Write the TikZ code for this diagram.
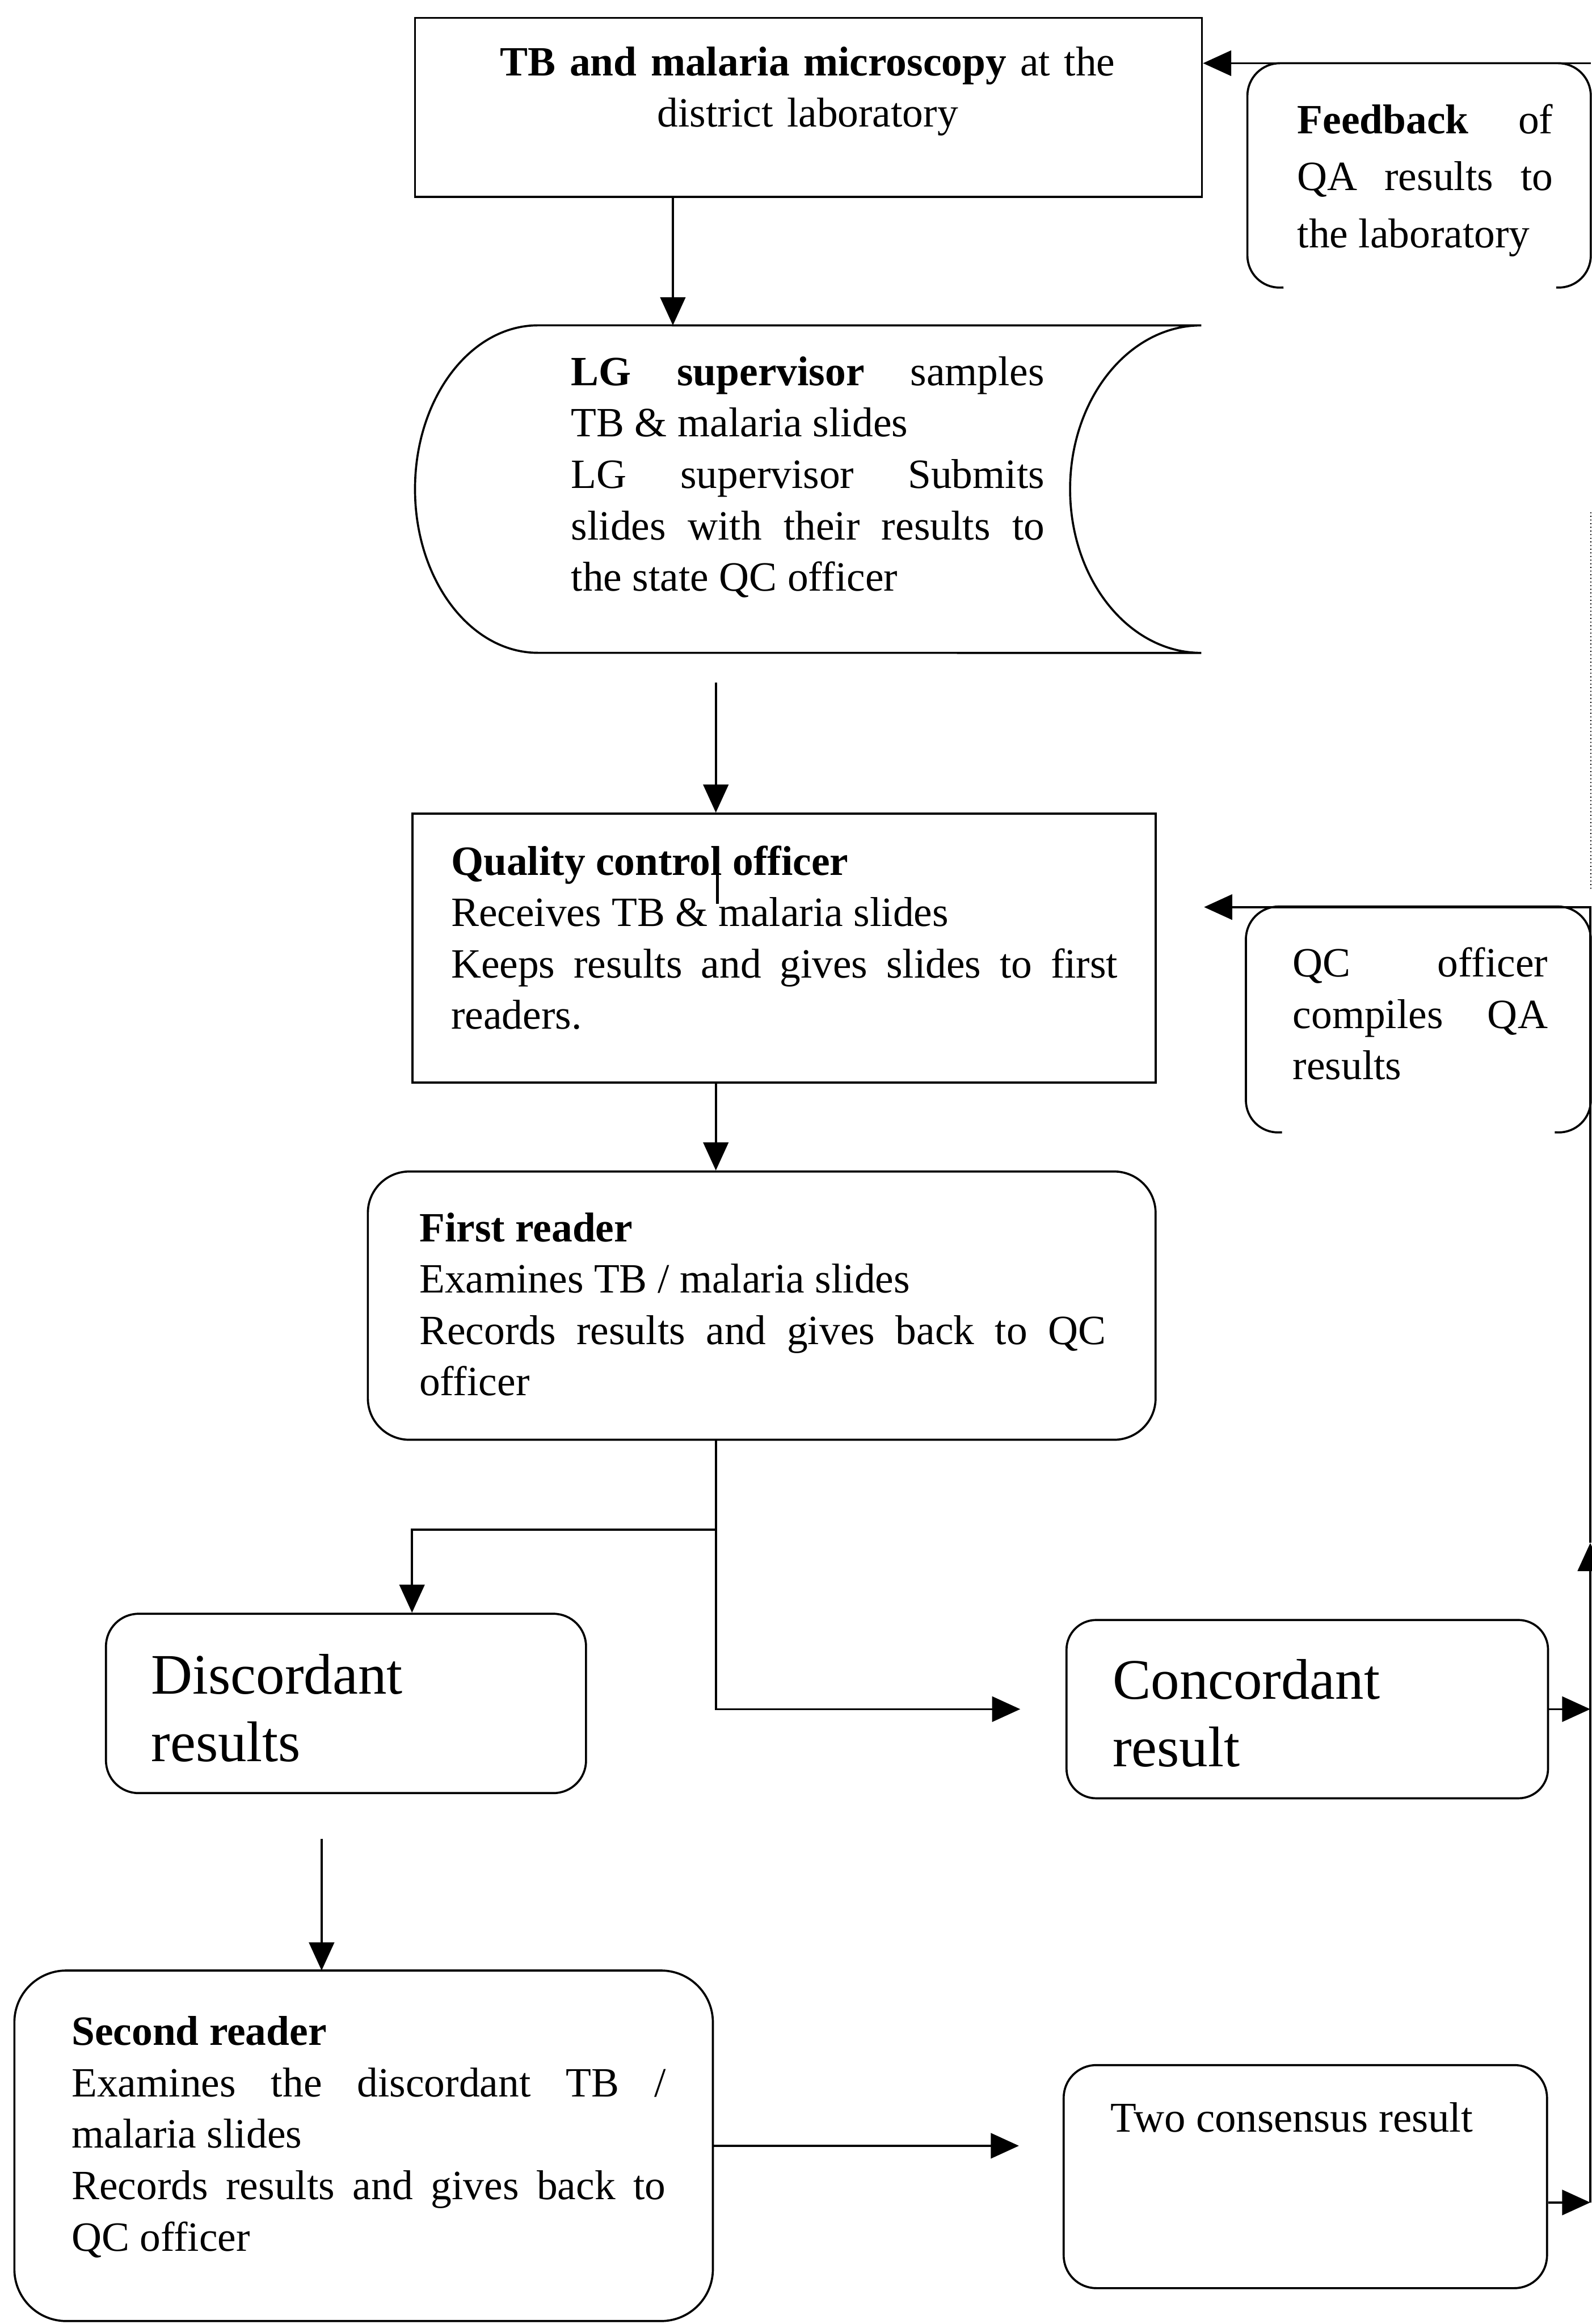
\documentclass[tikz,border=0pt]{standalone}
\usepackage{fontspec}
\setmainfont{Liberation Serif}
\usetikzlibrary{arrows.meta,fit}

\begin{document}
\begin{tikzpicture}[x=0.02cm, y=-0.02cm,
  box/.style={draw, line width=0.8pt, inner sep=0pt},
  line/.style={line width=0.8pt},
  arr/.style={line width=0.8pt, -{Triangle[length=3.8mm,width=3.4mm]}},
  txt/.style={inner sep=0pt, anchor=base west, align=justify, font=\fontsize{16}{19.75}\selectfont},
  big/.style={inner sep=0pt, anchor=base west, align=left, text width=4.2cm, font=\fontsize{22}{25.9}\selectfont}]
  \useasboundingbox (0,0) rectangle (1074,1568);

  % ── District laboratory (top) ──
  \node[box, fit={(280,12) (811,132.8)}] (lab) {};
  \node[txt, anchor=base, align=center, text width=9cm] (labtxt) at (545,51)
    {\textbf{TB and malaria microscopy} at the\\ district laboratory};

  % ── LG supervisor (stored-data shape) ──
  \node[inner sep=0pt, fit={(280,219.5) (810.5,440.5)}] (lg) {};
  \draw[line] (363,219.5) arc[start angle=90, end angle=270, x radius=1.66cm, y radius=2.21cm]
    -- (810.5,440.5) arc[start angle=270, end angle=90, x radius=1.77cm, y radius=2.21cm] -- cycle;
  \node[txt, text width=6.39cm] (lgtxt) at (385,260)
    {\textbf{LG supervisor} samples\linebreak TB \& malaria slides\\
     LG supervisor Submits\linebreak slides with their results to\linebreak the state QC officer};

  % ── Quality control officer ──
  \node[box, fit={(278.3,549) (779.7,730.4)}] (qco) {};
  \node[txt, text width=9cm] (qcotxt) at (304,590.3)
    {\textbf{Quality control officer}\\ Receives TB \& malaria slides\\
     Keeps results and gives slides to first\linebreak readers.};
  \draw[line width=1pt] (484,571) -- (484,610);

  % ── Feedback and QC compile boxes (right, open at the bottom) ──
  \node[inner sep=0pt, fit={(842,43) (1073,194)}] (feed) {};
  \draw[line, rounded corners=0.44cm] (866,194) -- (feed.south west) -- (feed.north west)
    -- (feed.north east) -- (feed.south east) -- (1050,194);
  \node[txt, text width=3.45cm, font=\fontsize{16}{21.9}\selectfont] (feedtxt) at (875,90)
    {\textbf{Feedback} of\linebreak QA results to\linebreak the laboratory};

  \node[inner sep=0pt, fit={(841,612) (1073,764)}] (comp) {};
  \draw[line, rounded corners=0.44cm] (865,764) -- (comp.south west) -- (comp.north west)
    -- (comp.north east) -- (comp.south east) -- (1049,764);
  \node[txt, text width=3.44cm] (comptxt) at (872,659)
    {QC officer\linebreak compiles QA\linebreak results};

  % ── First reader ──
  \node[box, rounded corners=0.56cm, fit={(248.2,790.4) (779.7,971.4)}] (first) {};
  \node[txt, text width=9.27cm] (firsttxt) at (282.6,837.6)
    {\textbf{First reader}\\ Examines TB / malaria slides\\
     Records results and gives back to QC\linebreak officer};

  % ── Discordant / concordant ──
  \node[box, rounded corners=0.44cm, fit={(71.5,1088.8) (395.4,1209.8)}] (disc) {};
  \node[big] (disctxt) at (101.7,1142.8) {Discordant\\ results};

  \node[box, rounded corners=0.4cm, fit={(719.6,1093) (1044.5,1213.3)}] (conc) {};
  \node[big] (conctxt) at (750.4,1146.5) {Concordant\\ result};

  % ── Second reader ──
  \node[box, rounded corners=0.7cm, fit={(9.7,1329.5) (481,1566)}] (second) {};
  \node[txt, text width=8.02cm] (secondtxt) at (48,1379.8)
    {\textbf{Second reader}\\ Examines the discordant TB /\linebreak malaria slides\\
     Records results and gives back to\linebreak QC officer};

  \node[box, rounded corners=0.44cm, fit={(717.7,1393.3) (1043.8,1543.8)}] (cons) {};
  \node[txt, text width=5.5cm, font=\fontsize{16.3}{19.75}\selectfont] (constxt) at (749,1438.4)
    {Two consensus result};

  % ── Connectors ──
  \coordinate (lgin) at (454,219.5);
  \coordinate (split) at (483,1032);
  \coordinate (dtop) at (278,1032);
  \coordinate (secin) at (217,1329.5);
  \coordinate (railtop) at (1073,612);
  \coordinate (railmid) at (1073,1041);
  \coordinate (railbot) at (1073,1486);

  \draw[arr] (lab.south -| lgin) -- (lgin);
  \draw[arr, shorten <=0.39cm] (lg.south -| split) -- (qco.north -| split);
  \draw[arr] (qco.south -| split) -- (first.north -| split);
  \draw[line] (first.south -| split) -- (split);
  \draw[arr] (split) -- (dtop) -- (disc.north -| dtop);
  \draw[arr, shorten >=0.61cm] (split) |- (conc.west);
  \draw[arr, shorten <=0.6cm] (disc.south -| secin) -- (secin);
  \draw[arr, shorten >=0.59cm] (second.east) -- (second.east -| cons.west);

  % return path on the right edge
  \draw[arr] (conc.east) -- (conc.east -| railbot);
  \draw[arr] (cons.east |- railbot) -- (railbot);
  \draw[arr] (railbot) -- (railmid);
  \draw[arr, shorten >=0.64cm] (railmid) -- (railtop) -- (railtop -| qco.east);
  \draw[densely dotted, line width=0.4pt, shorten <=0.24cm, shorten >=3.02cm] (comp.north east) -- (feed.south east);
  \draw[arr] (feed.north east) -- (feed.north -| lab.east);

\end{tikzpicture}
\end{document}
